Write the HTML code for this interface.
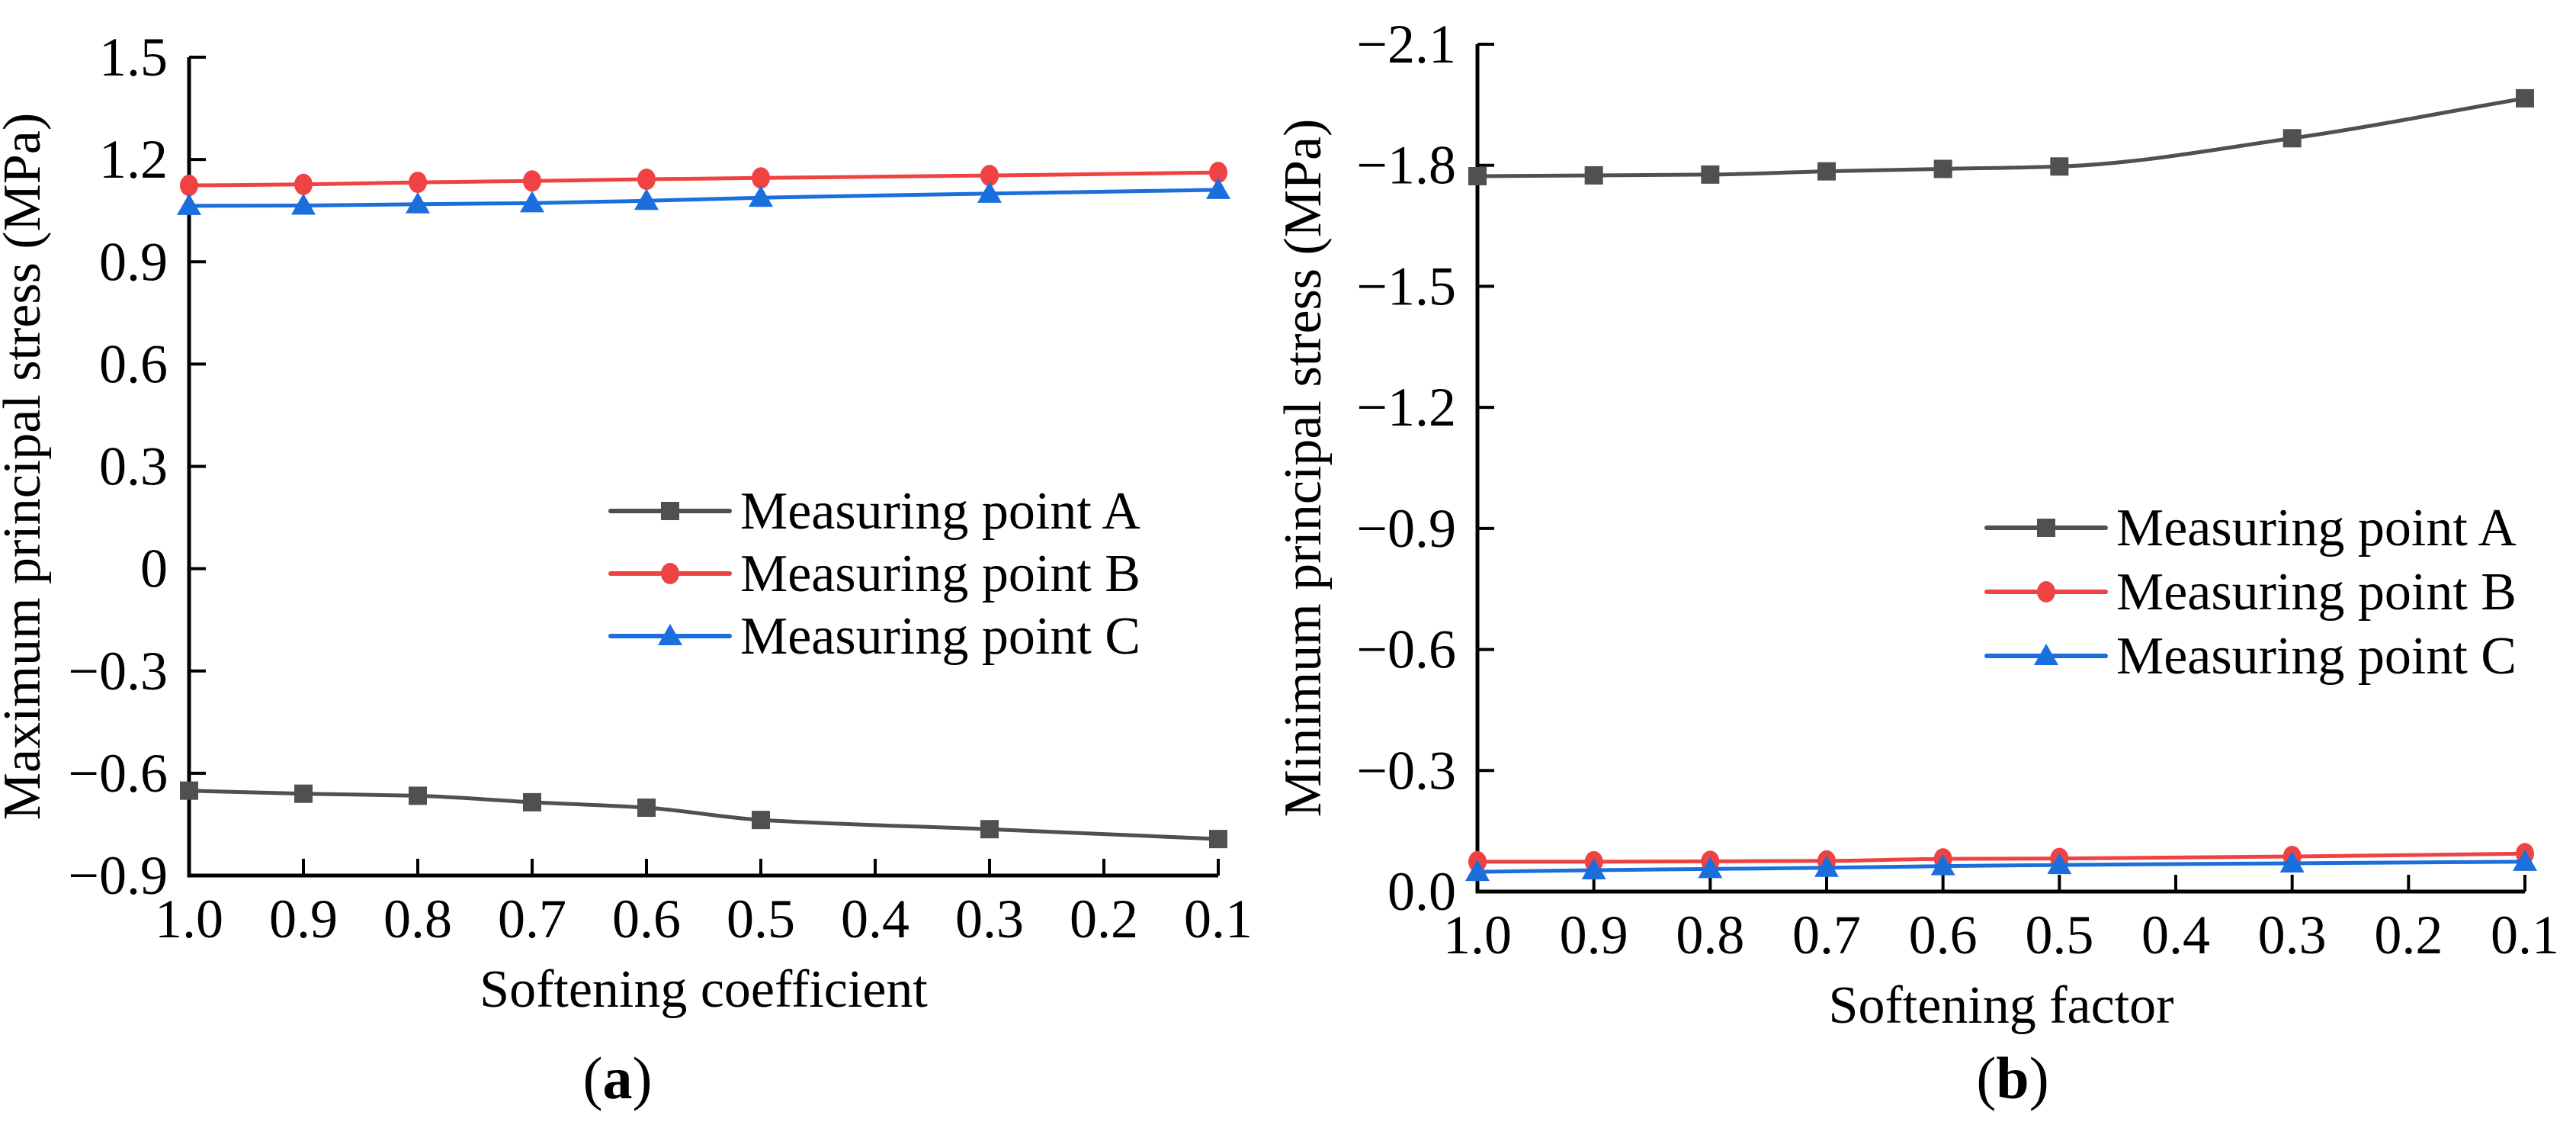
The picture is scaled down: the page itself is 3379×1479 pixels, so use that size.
<!DOCTYPE html>
<html><head><meta charset="utf-8">
<style>
html,body{margin:0;padding:0;background:#fff;}
svg{display:block;}
svg text{font-family:"Liberation Serif","Times New Roman",serif;}
</style></head>
<body>
<svg id="fig" width="3379" height="1479" viewBox="0 0 3379 1479" xmlns="http://www.w3.org/2000/svg" font-family="Liberation Serif, serif"></svg>
<script>
// shared categories
const xCats = [1.0, 0.9, 0.8, 0.7, 0.6, 0.5, 0.3, 0.1];
const xTickVals = [1.0, 0.9, 0.8, 0.7, 0.6, 0.5, 0.4, 0.3, 0.2, 0.1];
const xTickLabels = ["1.0","0.9","0.8","0.7","0.6","0.5","0.4","0.3","0.2","0.1"];
// panel (a)
const aSeriesA = [-0.651, -0.660, -0.666, -0.685, -0.701, -0.737, -0.764, -0.793];
const aSeriesB = [1.124, 1.127, 1.133, 1.137, 1.142, 1.146, 1.153, 1.162];
const aSeriesC = [1.064, 1.065, 1.069, 1.072, 1.079, 1.088, 1.100, 1.111];
const aYTicks = [1.5, 1.2, 0.9, 0.6, 0.3, 0, -0.3, -0.6, -0.9];
const aYLabels = ["1.5","1.2","0.9","0.6","0.3","0","\u22120.3","\u22120.6","\u22120.9"];
// panel (b)
const bSeriesA = [-1.773, -1.775, -1.777, -1.785, -1.791, -1.797, -1.867, -1.966];
const bSeriesB = [-0.074, -0.074, -0.075, -0.076, -0.081, -0.082, -0.087, -0.094];
const bSeriesC = [-0.049, -0.053, -0.056, -0.059, -0.063, -0.066, -0.070, -0.074];
const bYTicks = [-2.1, -1.8, -1.5, -1.2, -0.9, -0.6, -0.3, 0.0];
const bYLabels = ["\u22122.1","\u22121.8","\u22121.5","\u22121.2","\u22120.9","\u22120.6","\u22120.3","0.0"];

const NS = "http://www.w3.org/2000/svg";
const svg = document.getElementById("fig");
const FONT = "Liberation Serif, Times New Roman, serif";
function mk(tag, attrs, parent){
  const e = document.createElementNS(NS, tag);
  for (const k in attrs) e.setAttribute(k, attrs[k]);
  if (tag === "text") e.setAttribute("font-family", FONT);
  (parent||svg).appendChild(e);
  return e;
}
const COL = {A:"#505050", B:"#ef4343", C:"#1b6fdd"};

// monotone cubic (Fritsch-Carlson) path
function monotone(pts){
  const n = pts.length;
  const dx=[], dy=[], m=[];
  for (let i=0;i<n-1;i++){ dx.push(pts[i+1][0]-pts[i][0]); dy.push(pts[i+1][1]-pts[i][1]); m.push(dy[i]/dx[i]); }
  const t=[m[0]];
  for (let i=1;i<n-1;i++){
    if (m[i-1]*m[i] <= 0) t.push(0);
    else { const w1=2*dx[i]+dx[i-1], w2=dx[i]+2*dx[i-1]; t.push((w1+w2)/(w1/m[i-1]+w2/m[i])); }
  }
  t.push(m[n-2]);
  let d = "M"+pts[0][0]+","+pts[0][1];
  for (let i=0;i<n-1;i++){
    const h=dx[i]/3;
    d += " C"+(pts[i][0]+h)+","+(pts[i][1]+t[i]*h)+" "+(pts[i+1][0]-h)+","+(pts[i+1][1]-t[i+1]*h)+" "+pts[i+1][0]+","+pts[i+1][1];
  }
  return d;
}
function marker(g, kind, x, y){
  if (kind==="A") return mk("rect",{x:x-12,y:y-12,width:24,height:24,fill:COL.A},g);
  if (kind==="B") return mk("ellipse",{cx:x,cy:y,rx:12,ry:14,fill:COL.B},g);
  return mk("polygon",{points:(x)+","+(y-16)+" "+(x-16)+","+(y+12)+" "+(x+16)+","+(y+12),fill:COL.C},g);
}

function panel(cfg){
  const g = mk("g",{});
  
  
  const X = v => cfg.x0 + (cfg.xMax - v)/(cfg.xMax - cfg.xMin)*(cfg.x1 - cfg.x0);
  const Y = v => cfg.yBot + (v - cfg.yMinV)/(cfg.yMaxV - cfg.yMinV)*(cfg.yTop - cfg.yBot);
  const ax = mk("path",{d:"M"+cfg.x0+","+(cfg.yTop)+" L"+cfg.x0+","+cfg.yBot+" L"+cfg.x1+","+cfg.yBot,stroke:"#000","stroke-width":5,fill:"none"},g);
  
  
  cfg.yTicks.forEach((v,i)=>{
    const y = Y(v);
    const t = mk("line",{x1:cfg.x0,y1:y,x2:cfg.x0+22,y2:y,stroke:"#000","stroke-width":4},g);
    
    
    const l = mk("text",{x:cfg.x0-28,y:y+24,"text-anchor":"end","font-size":72},g);
    l.textContent = cfg.yLabels[i];
    
    
  });
  xTickVals.forEach((v,i)=>{
    const x = X(v);
    const t = mk("line",{x1:x,y1:cfg.yBot,x2:x,y2:cfg.yBot-22,stroke:"#000","stroke-width":4},g);
    
    
    const l = mk("text",{x:x,y:cfg.yBot+81,"text-anchor":"middle","font-size":72},g);
    l.textContent = xTickLabels[i];
    
    
  });
  const xt = mk("text",{x:(cfg.x0+cfg.x1)/2,y:cfg.yBot+172,"text-anchor":"middle","font-size":70},g);
  xt.textContent = cfg.xTitle;
  
  
  const yc = (cfg.yTop+cfg.yBot)/2;
  const yt = mk("text",{x:cfg.yTitleX,y:yc,"text-anchor":"middle","font-size":70,transform:"rotate(-90 "+cfg.yTitleX+" "+yc+")"},g);
  yt.textContent = cfg.yTitle;
  
  
  const cap = mk("text",{x:cfg.capX,y:1440,"text-anchor":"middle","font-size":78},g);
  cap.innerHTML = '(<tspan font-weight="bold">'+cfg.cap+'</tspan>)';
  
  
  [["A",cfg.sA],["B",cfg.sB],["C",cfg.sC]].forEach(([k,vals])=>{
    const pts = xCats.map((c,i)=>[X(c), Y(vals[i])]);
    const p = mk("path",{d:monotone(pts),stroke:COL[k],"stroke-width":5,fill:"none"},g);
    
    
    pts.forEach(pt=>{
      const m = marker(g,k,pt[0],pt[1]);
      
      
    });
  });
  const lg = mk("g",{},g);
  
  
  ["A","B","C"].forEach((k,i)=>{
    const y = cfg.legY + i*cfg.legDy;
    const ln = mk("line",{x1:cfg.legX,y1:y,x2:cfg.legX+156,y2:y,stroke:COL[k],"stroke-width":6,"stroke-linecap":"round"},lg);
    
    
    const m = marker(lg,k,cfg.legX+78,y);
    
    
    const t = mk("text",{x:cfg.legX+170,y:y+23,"font-size":70},lg);
    t.textContent = "Measuring point "+k;
    
    
  });
}

panel({name:"chart-a", x0:248, x1:1598, xMax:1.0, xMin:0.1, yTop:75, yBot:1148, yMaxV:1.5, yMinV:-0.9,
  yTicks:aYTicks, yLabels:aYLabels, sA:aSeriesA, sB:aSeriesB, sC:aSeriesC,
  xTitle:"Softening coefficient", yTitle:"Maximum principal stress (MPa)", yTitleX:52, capX:810, cap:"a",
  legX:801, legY:670, legDy:82});
panel({name:"chart-b", x0:1938, x1:3312, xMax:1.0, xMin:0.1, yTop:58, yBot:1169, yMaxV:-2.1, yMinV:0.0,
  yTicks:bYTicks, yLabels:bYLabels, sA:bSeriesA, sB:bSeriesB, sC:bSeriesC,
  xTitle:"Softening factor", yTitle:"Minimum principal stress (MPa)", yTitleX:1732, capX:2640, cap:"b",
  legX:2606, legY:692, legDy:84});
</script>
</body></html>
